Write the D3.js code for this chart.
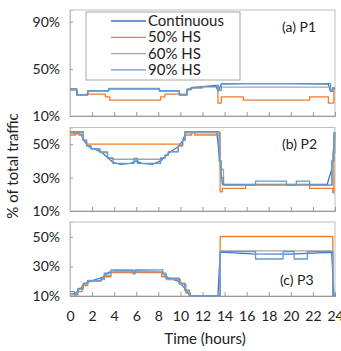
<!DOCTYPE html>
<html>
<head>
<meta charset="utf-8">
<script src="https://cdn.jsdelivr.net/npm/d3@7"></script>
<style>
  body { margin: 0; background: #fff; }
  text { font-family: Lato, "Open Sans", sans-serif; fill: #222; }
</style>
</head>
<body>
<svg id="chart" width="341" height="351"></svg>
<script>
// ---- data (hours, % of total traffic) ----
const seriesNames = ["Continuous", "50% HS", "60% HS", "90% HS"];
const seriesColors = ["#4472C4", "#ED7D31", "#A5A5A5", "#5B9BD5"];
const xTicks = [0, 2, 4, 6, 8, 10, 12, 14, 16, 18, 20, 22, 24];

// P1
const p1Continuous = [[0,33],[0.6,33],[0.7,28],[1.5,28],[1.7,31.5],[3.4,31.5],[3.6,33],[8.0,33],[8.2,31.5],[9.8,31.5],[10,28],[10.5,28],[10.7,32.5],[11,34],[12,35],[13.2,36],[13.4,31],[13.7,37],[16,37.5],[20,37.5],[23.4,37],[23.6,31],[24,34]];
const p1HS50 = [[0,32],[0.6,27.7],[1.6,28.5],[3.2,26.3],[3.6,23.5],[8.2,26.3],[8.6,28.5],[10.6,32.5],[11,34],[12,35],[13.3,36],[13.4,21],[13.7,26.3],[15.7,23.5],[21.7,26.3],[23.4,21],[23.9,33],[24,33]];
const p1HS60 = [[0,32.5],[0.6,28],[1.6,31],[3.5,33.5],[8.1,31],[9.9,28],[10.6,32.5],[11,34],[12,35],[13.3,36],[13.4,32],[13.7,34.5],[23.5,34.5],[23.6,31],[23.8,34],[24,34]];
const p1HS90 = [[0,33],[0.6,28],[1.6,31.5],[3.5,33],[8.1,31.5],[9.9,27.7],[10.6,32.7],[11,34.2],[12,35],[13.3,36],[13.4,32],[13.7,37.5],[23.5,37.5],[23.6,31],[23.8,34],[24,34]];

// P2
const p2Continuous = [[0,57],[1,56],[1.3,52],[1.6,49],[2,47.5],[2.8,45.5],[3.4,42],[3.9,39],[4.5,38],[5.5,38.5],[6,40],[6.5,38.5],[7.5,38],[8.2,40],[8.7,43],[9,45],[9.8,48.5],[10.2,52],[10.5,57],[13.3,57],[13.8,26],[16,26],[20,26],[23.3,26],[23.7,35],[24,57]];
const p2HS50 = [[0,55.5],[0.5,57],[0.8,55.5],[1.2,52.4],[1.5,50],[10.2,52.4],[10.4,55.5],[11,57],[11.3,55.5],[13.4,55.5],[13.6,21.5],[13.8,23.5],[15.9,25.5],[21.7,23.5],[23.5,23.5],[23.8,21],[23.9,55],[24,55]];
const p2HS60 = [[0,57],[1.2,52],[1.5,49],[1.9,47],[2.7,45],[3.4,42],[3.9,41],[8.2,42],[8.6,43.5],[8.9,45.5],[9.8,49],[10.2,52.5],[10.4,57],[13.4,57],[13.6,35],[13.9,25.5],[23.5,25.5],[23.8,45],[24,57]];
const p2HS90 = [[0,57.5],[1.2,52.4],[1.5,49],[1.9,47.4],[2.7,45.4],[3.4,41.5],[3.9,38.5],[5.8,41.5],[6.1,38.5],[8.2,41.5],[8.6,43.4],[8.9,45.4],[9.8,49],[10.2,52.4],[10.4,57.5],[13.4,57.5],[13.5,40],[13.7,30],[13.9,25.5],[16.8,27.9],[19.6,25.5],[20.5,27.9],[21.7,25.5],[23.5,25.5],[23.7,40],[23.9,57],[24,57]];

// P3
const p3Continuous = [[0,11],[0.5,12],[1,15.5],[1.5,19],[2.5,21.5],[3,23],[3.5,26],[4,27],[6,27],[8.2,26.5],[8.8,22.5],[9.8,20],[10.3,16],[10.8,11],[11,10],[13.4,10],[13.6,39.5],[14,39.5],[16.5,38.5],[20,38.3],[22,39],[23.7,39.5],[23.9,10],[24,11]];
const p3HS50 = [[0,11],[0.6,13],[1.1,17],[1.6,20],[2.8,21],[3.1,23],[3.7,25.8],[8.3,23],[8.8,21],[10,18],[10.5,12],[10.9,10],[13.5,10],[13.6,50.2],[23.8,10],[24,10]];
const p3HS60 = [[0,11],[0.7,14.5],[1.2,18],[1.6,20.5],[2.8,21.5],[3.1,24],[3.7,26.5],[8.4,24.5],[8.7,21.5],[9.9,18],[10.4,13.5],[10.8,10],[13.5,10],[13.6,40.5],[23.8,10],[24,10.5]];
const p3HS90 = [[0,12.9],[0.4,10.7],[0.7,15.2],[1.2,18.6],[1.6,20.2],[2.8,22],[3.1,25.4],[3.7,27.6],[5.7,25],[5.9,27.6],[8.4,25.4],[8.7,22],[9.9,18.6],[10.4,14],[10.8,10],[13.5,10],[13.6,40],[16.8,35],[19.3,40],[20.3,35],[21.5,40],[23.8,10],[24,11]];

const panels = [
  { label: "(a) P1", domain: [10, 100], ticks: [10, 50, 90], top: 10, bottom: 116,
    series: [p1Continuous, p1HS50, p1HS60, p1HS90], lx: 282, ly: 32 },
  { label: "(b) P2", domain: [10, 60], ticks: [10, 30, 50], top: 127.5, bottom: 211,
    series: [p2Continuous, p2HS50, p2HS60, p2HS90], lx: 282, ly: 149 },
  { label: "(c) P3", domain: [10, 60], ticks: [10, 30, 50], top: 222, bottom: 296,
    series: [p3Continuous, p3HS50, p3HS60, p3HS90], lx: 280, ly: 285 }
];

const svg = d3.select("#chart");
const left = 70, right = 335;
const x = d3.scaleLinear().domain([0, 24]).range([left, right]);

panels.forEach((p) => {
  const y = d3.scaleLinear().domain(p.domain).range([p.bottom, p.top]);
  const g = svg.append("g");

  // frame
  g.append("rect")
    .attr("x", left).attr("y", p.top)
    .attr("width", right - left).attr("height", p.bottom - p.top)
    .attr("fill", "none").attr("stroke", "#bfbfbf").attr("stroke-width", 1);

  // x axis (inside ticks)
  const xa = g.append("g").attr("transform", `translate(0,${p.bottom})`)
    .call(d3.axisBottom(x).tickValues(xTicks).tickSize(-4).tickFormat(""));
  xa.select(".domain").attr("stroke", "#999");
  xa.selectAll("line").attr("stroke", "#999");

  // y axis
  const ya = g.append("g").attr("transform", `translate(${left},0)`)
    .call(d3.axisLeft(y).tickValues(p.ticks).tickSize(-3).tickPadding(10).tickFormat(d => d + "%"));
  ya.select(".domain").attr("stroke", "#bfbfbf");
  ya.selectAll("line").attr("stroke", "#999");
  ya.selectAll("text").style("font-size", "14px").attr("fill", "#222");

  // series
  p.series.forEach((s, i) => {
    const line = d3.line()
      .x(d => x(d[0])).y(d => y(d[1]))
      .curve(i === 0 ? d3.curveLinear : d3.curveStepAfter);
    g.append("path").datum(s)
      .attr("d", line)
      .attr("fill", "none")
      .attr("stroke", seriesColors[i])
      .attr("stroke-width", 1.3)
      .attr("stroke-linejoin", "round");
  });

  g.append("text").attr("x", p.lx).attr("y", p.ly)
    .style("font-size", "14px").text(p.label);
});

// x tick labels under bottom panel
svg.append("g").attr("transform", `translate(0,${panels[2].bottom})`)
  .call(d3.axisBottom(x).tickValues(xTicks).tickSize(0).tickPadding(15))
  .call(g => g.select(".domain").remove())
  .selectAll("text").style("font-size", "14px").attr("fill", "#222");

svg.append("text").attr("x", 205).attr("y", 344)
  .attr("text-anchor", "middle").style("font-size", "15px").text("Time (hours)");

svg.append("text")
  .attr("transform", "translate(18,166) rotate(-90)")
  .attr("text-anchor", "middle").style("font-size", "15px").text("% of total traffic");

// legend
const lg = svg.append("g");
lg.append("rect").attr("x", 86).attr("y", 12).attr("width", 154).attr("height", 68)
  .attr("fill", "#fff").attr("stroke", "#a6a6a6");
seriesNames.forEach((n, i) => {
  const cy = 21 + i * 16.3;
  lg.append("line").attr("x1", 111).attr("x2", 146).attr("y1", cy).attr("y2", cy)
    .attr("stroke", seriesColors[i]).attr("stroke-width", 1.3);
  lg.append("text").attr("x", 148).attr("y", cy + 5)
    .style("font-size", "15px").text(n);
});
</script>
</body>
</html>
